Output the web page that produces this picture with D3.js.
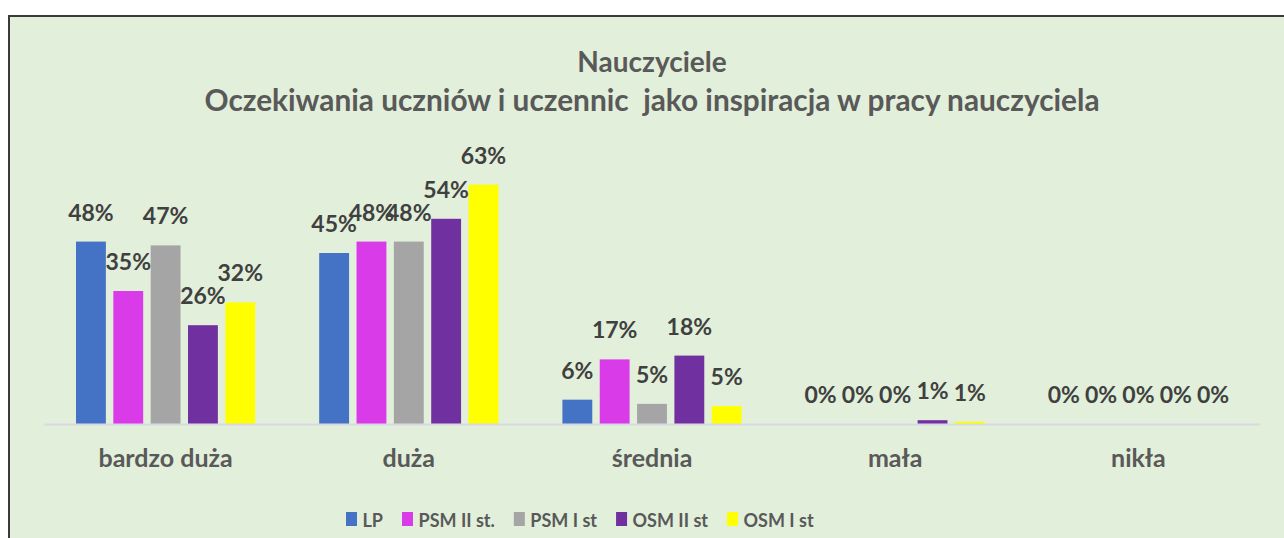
<!DOCTYPE html>
<html>
<head>
<meta charset="utf-8">
<script src="https://cdn.jsdelivr.net/npm/d3@7"></script>
<style>
html,body{margin:0;padding:0;background:#fff;}
svg{display:block;}
text{font-family:Lato,"Open Sans",sans-serif;font-weight:bold;white-space:pre;}
</style>
</head>
<body>
<svg id="chart" width="1284" height="538"></svg>
<script>
const categories = ["bardzo duża", "duża", "średnia", "mała", "nikła"];
const seriesNames = ["LP", "PSM II st.", "PSM I st", "OSM II st", "OSM I st"];
const seriesColors = ["#4472C4", "#DA3BE8", "#A5A5A5", "#7030A0", "#FFFF00"];
// values per series, in category order (fractions)
const LP       = [0.48, 0.45, 0.064, 0.0, 0.0];
const PSM_II   = [0.35, 0.48, 0.17, 0.0, 0.0];
const PSM_I    = [0.47, 0.48, 0.053, 0.0, 0.0];
const OSM_II   = [0.26, 0.54, 0.18, 0.01, 0.0];
const OSM_I    = [0.32, 0.63, 0.047, 0.006, 0.0];
const titleLines = ["Nauczyciele", "Oczekiwania uczniów i uczennic  jako inspiracja w pracy nauczyciela"];

const seriesValues = [LP, PSM_II, PSM_I, OSM_II, OSM_I];

const svg = d3.select("#chart");

// chart area frame
svg.append("rect").attr("x", 9).attr("y", 16).attr("width", 1300).attr("height", 560)
  .attr("fill", "#E2EFDA").attr("stroke", "#3a3a3a").attr("stroke-width", 2);

// title
const title = svg.append("text").attr("text-anchor", "middle").attr("fill", "#595959")
  .attr("xml:space", "preserve");
title.append("tspan").attr("x", 652).attr("y", 72).style("font-size", "28px").text(titleLines[0]);
title.append("tspan").attr("x", 652).attr("y", 111).style("font-size", "29.8px").text(titleLines[1]);

const x0 = d3.scaleBand().domain(categories).range([44, 1260]);
const x1 = d3.scaleBand().domain(seriesNames).range([32, x0.bandwidth() - 32]).paddingInner(0.2);
const y = d3.scaleLinear().domain([0, 0.7]).range([424, 424 - 0.7 * 380]);

// bars
const data = [];
categories.forEach((c, ci) => {
  seriesNames.forEach((s, si) => data.push({c, s, si, v: seriesValues[si][ci]}));
});

const g = svg.append("g");
g.selectAll("rect.bar").data(data).join("rect")
  .attr("class", "bar")
  .attr("x", d => x0(d.c) + x1(d.s))
  .attr("width", x1.bandwidth())
  .attr("y", d => y(d.v))
  .attr("height", d => y(0) - y(d.v))
  .attr("fill", d => seriesColors[d.si]);

// axis
const xAxis = d3.axisBottom(x0).tickSize(0).tickPadding(0);
const ax = svg.append("g").attr("transform", `translate(0,${y(0)})`).call(xAxis);
ax.select(".domain").attr("stroke", "#D9D9E3").attr("stroke-width", 2);
ax.selectAll(".tick text").attr("fill", "#595959").style("font-size", "25px").attr("y", 0).attr("dy", 0)
  .attr("transform", "translate(0,43)");

// value labels
const fmt = d3.format(".0%");
g.selectAll("text.lbl").data(data).join("text")
  .attr("class", "lbl")
  .attr("text-anchor", "middle")
  .attr("x", d => x0(d.c) + x1(d.s) + x1.bandwidth() / 2)
  .attr("y", d => y(d.v) - 21)
  .attr("fill", "#404040")
  .style("font-size", "23px")
  .text(d => fmt(d.v));

// legend
const legend = svg.append("g").attr("transform", "translate(346,0)");
let lx = 0;
seriesNames.forEach((s, i) => {
  legend.append("rect").attr("x", lx).attr("y", 512).attr("width", 11).attr("height", 14).attr("fill", seriesColors[i]);
  const t = legend.append("text").attr("x", lx + 16.5).attr("y", 527).attr("fill", "#595959")
    .style("font-size", "18px").text(s);
  lx += 16.5 + t.node().getComputedTextLength() + 19;
});
</script>
</body>
</html>
